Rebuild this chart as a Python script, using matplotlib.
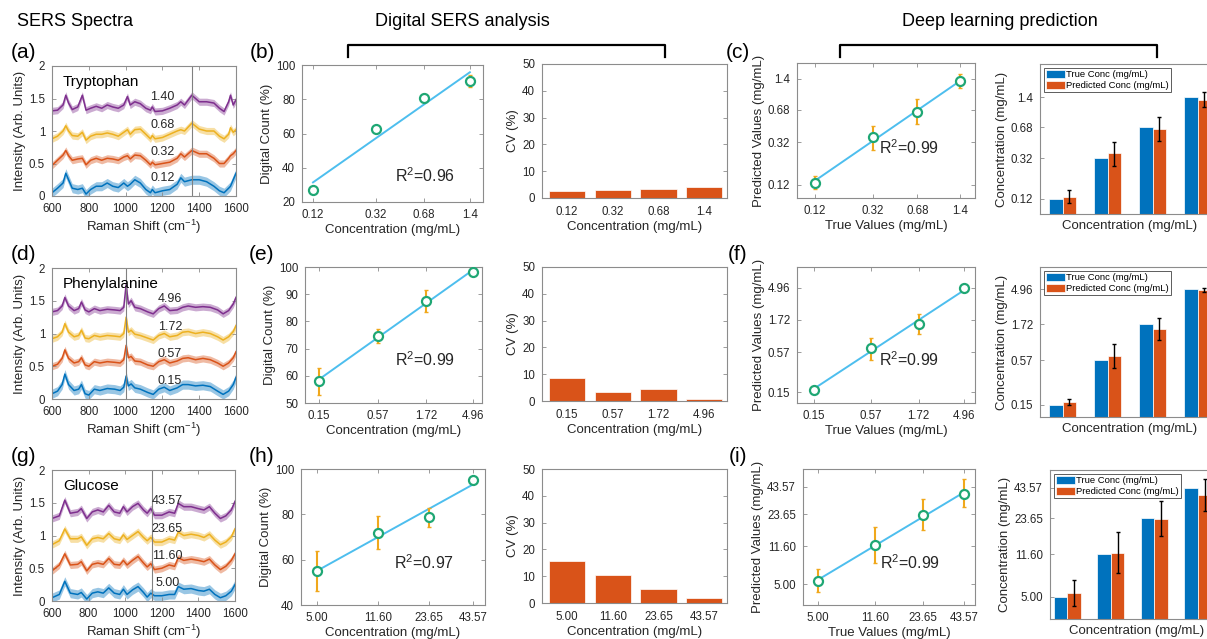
import numpy as np
import matplotlib
matplotlib.use("Agg")
import matplotlib.pyplot as plt

plt.rcParams['font.family'] = ['Liberation Sans', 'DejaVu Sans']
plt.rcParams['mathtext.fontset'] = 'custom'
plt.rcParams['mathtext.rm'] = 'Liberation Sans'
plt.rcParams['mathtext.it'] = 'Liberation Sans:italic'

# ---------------- data ----------------
# Tryptophan spectra
trp_x = [600, 630, 660, 675, 690, 710, 740, 765, 785, 810, 840, 870, 900, 930, 960, 990, 1010, 1025,
         1050, 1080, 1110, 1135, 1145, 1160, 1200, 1240, 1280, 1300, 1320, 1360, 1400, 1440, 1480,
         1510, 1535, 1560, 1570, 1585, 1600]
trp_s140 = [1.31, 1.32, 1.40, 1.55, 1.43, 1.33, 1.37, 1.55, 1.32, 1.35, 1.38, 1.35, 1.40, 1.37, 1.35, 1.40,
            1.53, 1.40, 1.45, 1.42, 1.35, 1.32, 1.37, 1.30, 1.31, 1.35, 1.40, 1.45, 1.40, 1.55, 1.45, 1.45,
            1.43, 1.35, 1.30, 1.45, 1.55, 1.40, 1.48]
trp_s068 = [0.88, 0.92, 1.00, 1.08, 1.00, 0.93, 0.92, 0.98, 0.86, 0.92, 0.95, 0.95, 0.97, 0.95, 0.92, 0.98,
            1.02, 0.95, 1.02, 1.03, 0.95, 0.88, 0.93, 0.88, 0.90, 0.95, 1.00, 1.02, 1.00, 1.12, 1.03, 1.00,
            1.00, 0.92, 0.88, 0.95, 1.05, 0.98, 1.02]
trp_s032 = [0.47, 0.55, 0.63, 0.70, 0.62, 0.55, 0.57, 0.58, 0.48, 0.55, 0.58, 0.55, 0.58, 0.57, 0.55, 0.60,
            0.62, 0.57, 0.63, 0.62, 0.55, 0.48, 0.52, 0.48, 0.50, 0.52, 0.58, 0.65, 0.60, 0.70, 0.65, 0.65,
            0.58, 0.50, 0.50, 0.58, 0.62, 0.65, 0.70]
trp_s012 = [0.05, 0.12, 0.20, 0.35, 0.25, 0.12, 0.10, 0.12, 0.03, 0.10, 0.15, 0.15, 0.20, 0.15, 0.13, 0.20,
            0.15, 0.18, 0.25, 0.20, 0.10, 0.05, 0.10, 0.05, 0.08, 0.10, 0.18, 0.28, 0.22, 0.25, 0.25, 0.22,
            0.15, 0.08, 0.05, 0.12, 0.15, 0.25, 0.35]

# Phenylalanine spectra
phe_x = [600, 630, 655, 670, 690, 720, 745, 760, 780, 800, 830, 860, 900, 940, 970, 990, 1003, 1015, 1030,
         1050, 1080, 1120, 1150, 1180, 1210, 1240, 1280, 1310, 1340, 1380, 1420, 1460, 1500, 1530, 1560,
         1585, 1600]
phe_s496 = [1.33, 1.35, 1.42, 1.55, 1.42, 1.35, 1.38, 1.48, 1.36, 1.33, 1.38, 1.35, 1.37, 1.36, 1.35, 1.40,
            1.75, 1.45, 1.50, 1.40, 1.38, 1.33, 1.30, 1.38, 1.42, 1.35, 1.36, 1.40, 1.42, 1.40, 1.41, 1.40,
            1.36, 1.30, 1.35, 1.45, 1.55]
phe_s172 = [0.92, 0.95, 1.02, 1.15, 1.02, 0.95, 0.97, 1.05, 0.93, 0.92, 0.97, 0.95, 0.97, 0.96, 0.95, 1.00,
            1.25, 1.02, 1.05, 0.99, 0.97, 0.93, 0.90, 0.97, 1.00, 0.95, 0.97, 1.02, 1.03, 1.00, 1.02, 1.00,
            0.95, 0.90, 0.95, 1.03, 1.12]
phe_s057 = [0.50, 0.53, 0.62, 0.75, 0.62, 0.55, 0.57, 0.63, 0.52, 0.50, 0.57, 0.55, 0.57, 0.56, 0.55, 0.60,
            0.82, 0.63, 0.65, 0.58, 0.57, 0.52, 0.50, 0.57, 0.60, 0.55, 0.58, 0.62, 0.63, 0.60, 0.62, 0.60,
            0.55, 0.50, 0.55, 0.63, 0.72]
phe_s015 = [0.08, 0.12, 0.22, 0.38, 0.22, 0.13, 0.15, 0.22, 0.08, 0.06, 0.15, 0.13, 0.16, 0.15, 0.13, 0.18,
            0.35, 0.20, 0.23, 0.17, 0.15, 0.10, 0.07, 0.15, 0.18, 0.13, 0.17, 0.22, 0.22, 0.20, 0.21, 0.19,
            0.12, 0.07, 0.12, 0.22, 0.33]

# Glucose spectra
glu_x = [600, 640, 670, 700, 740, 760, 790, 820, 850, 880, 910, 940, 970, 990, 1010, 1040, 1070, 1100, 1120,
         1140, 1160, 1200, 1240, 1270, 1290, 1320, 1360, 1400, 1430, 1460, 1490, 1520, 1550, 1580, 1600]
glu_s4357 = [1.26, 1.30, 1.54, 1.34, 1.36, 1.41, 1.26, 1.36, 1.39, 1.36, 1.46, 1.36, 1.34, 1.44, 1.36, 1.44,
             1.49, 1.39, 1.34, 1.41, 1.31, 1.31, 1.36, 1.34, 1.49, 1.44, 1.44, 1.41, 1.39, 1.44, 1.34, 1.26,
             1.30, 1.39, 1.52]
glu_s2365 = [0.86, 0.92, 1.10, 0.95, 0.95, 0.98, 0.85, 0.95, 0.97, 0.95, 1.03, 0.95, 0.93, 1.01, 0.94, 1.00,
             1.06, 0.97, 0.92, 0.97, 0.90, 0.90, 0.95, 0.93, 1.05, 1.00, 1.02, 1.00, 0.97, 1.02, 0.93, 0.86,
             0.90, 0.98, 1.10]
glu_s1160 = [0.46, 0.55, 0.72, 0.55, 0.56, 0.60, 0.46, 0.56, 0.58, 0.56, 0.65, 0.56, 0.55, 0.62, 0.55, 0.62,
             0.68, 0.58, 0.52, 0.57, 0.48, 0.50, 0.55, 0.53, 0.66, 0.62, 0.64, 0.62, 0.60, 0.64, 0.55, 0.48,
             0.53, 0.62, 0.72]
glu_s500 = [0.05, 0.10, 0.30, 0.12, 0.10, 0.13, 0.03, 0.12, 0.14, 0.12, 0.20, 0.12, 0.10, 0.18, 0.10, 0.17,
            0.22, 0.13, 0.06, 0.12, 0.08, 0.08, 0.10, 0.10, 0.22, 0.18, 0.19, 0.16, 0.15, 0.18, 0.10, 0.05,
            0.08, 0.15, 0.25]

band_halfwidth = [0.07, 0.055, 0.055, 0.055]   # blue, red, yellow, purple

# Concentrations
trp_conc = [0.12, 0.32, 0.68, 1.4]
trp_labels = ['0.12', '0.32', '0.68', '1.4']
phe_conc = [0.15, 0.57, 1.72, 4.96]
phe_labels = ['0.15', '0.57', '1.72', '4.96']
glu_conc = [5.00, 11.60, 23.65, 43.57]
glu_labels = ['5.00', '11.60', '23.65', '43.57']

# Digital counts (%)
trp_dc = [26.8, 62.9, 80.9, 90.6]
trp_dc_err = [1.0, 1.0, 2.0, 3.5]
phe_dc = [58.0, 74.7, 87.5, 98.0]
phe_dc_err = [5.0, 2.5, 4.0, 0.5]
glu_dc = [55.1, 71.8, 78.7, 95.3]
glu_dc_err = [8.8, 7.3, 4.3, 1.2]

# CV (%)
trp_cv = [2.6, 3.1, 3.5, 4.2]
phe_cv = [8.6, 3.3, 4.6, 0.7]
glu_cv = [15.5, 10.3, 5.3, 1.8]

# Deep learning predictions (mg/mL)
trp_pred = [0.125, 0.36, 0.654, 1.315]
trp_pred_lo = [0.108, 0.265, 0.49, 1.12]
trp_pred_hi = [0.148, 0.47, 0.87, 1.58]
phe_pred = [0.164, 0.66, 1.49, 4.87]
phe_pred_lo = [0.15, 0.45, 1.07, 4.6]
phe_pred_hi = [0.18, 0.93, 2.08, 5.15]
glu_pred = [5.42, 11.95, 23.3, 37.3]
glu_pred_lo = [4.19, 7.95, 16.6, 27.5]
glu_pred_hi = [7.03, 17.96, 33.5, 51.3]

r2_dc = ['0.96', '0.99', '0.97']
r2_pred = ['0.99', '0.99', '0.99']

# ---------------- styling ----------------
W, H = 1207, 639
fig = plt.figure(figsize=(W / 100, H / 100), dpi=100)
fig.patch.set_facecolor('white')

C_BLUE = '#0072BD'
C_ORANGE = '#D95319'
C_YELLOW = '#EDB120'
C_PURPLE = '#7E2F8E'
C_LINE = '#4DBEEE'
C_MARK = '#1FA774'
C_ERR = '#F0A81C'
SPINE = '#8c8c8c'
TXT = '#262626'
TICK_FS = 8.3
LAB_FS = 9.5


def add_ax(l, t, r, b):
    return fig.add_axes([l / W, 1 - b / H, (r - l) / W, (b - t) / H])


def style(ax):
    for s in ax.spines.values():
        s.set_color(SPINE)
        s.set_linewidth(0.8)
    ax.tick_params(direction='in', top=True, right=True, length=3, width=0.6,
                   color=SPINE, labelcolor=TXT, labelsize=TICK_FS, pad=5)


def spectra(ax, x, curves, labels, name, vline, label_x):
    cols = [C_BLUE, C_ORANGE, C_YELLOW, C_PURPLE]
    for y, c, hw in zip(curves, cols, band_halfwidth):
        y = np.asarray(y)
        ax.fill_between(x, y - hw, y + hw, color=c, alpha=0.4, lw=0)
        ax.plot(x, y, color=c, lw=1.1)
    ax.axvline(vline, color='#808080', lw=0.8)
    label_y = [0.28, 0.68, 1.1, 1.53]
    for lab, ly in zip(labels, label_y):
        ax.text(label_x, ly, lab, ha='center', va='center', fontsize=9, color=TXT)
    ax.text(660, 1.76, name, ha='left', va='center', fontsize=11, color='black')
    ax.set_xlim(600, 1600)
    ax.set_ylim(0, 2)
    ax.set_xticks([600, 800, 1000, 1200, 1400, 1600])
    ax.set_yticks([0, 0.5, 1, 1.5, 2])
    ax.set_yticklabels(['0', '0.5', '1', '1.5', '2'])
    style(ax)
    ax.set_xlabel('Raman Shift (cm$^{-1}$)', fontsize=LAB_FS, color=TXT, labelpad=2)
    ax.set_ylabel('Intensity (Arb. Units)', fontsize=LAB_FS, color=TXT, labelpad=2)


def digital(ax, conc, labels, dc, err, r2, xlim, ylim, yticks, r2pos):
    lx = np.log10(conc)
    p = np.polyfit(lx, dc, 1)
    xx = np.array([conc[0], conc[-1]])
    ax.plot(xx, np.polyval(p, np.log10(xx)), color=C_LINE, lw=1.4, zorder=2)
    ax.errorbar(conc, dc, yerr=err, fmt='none', ecolor=C_ERR, elinewidth=1.5, capsize=1.5, zorder=3)
    ax.plot(conc, dc, 'o', mfc='white', mec=C_MARK, mew=1.6, ms=6.5, zorder=4)
    ax.set_xscale('log')
    ax.set_xlim(*xlim)
    ax.set_ylim(*ylim)
    ax.set_xticks(conc)
    ax.set_xticklabels(labels)
    ax.minorticks_off()
    ax.set_yticks(yticks)
    style(ax)
    ax.text(r2pos[0], r2pos[1], 'R$^2$=' + r2, transform=ax.transAxes, ha='center', va='center',
            fontsize=11.5, color=TXT)
    ax.set_xlabel('Concentration (mg/mL)', fontsize=LAB_FS, color=TXT, labelpad=2)
    ax.set_ylabel('Digital Count (%)', fontsize=LAB_FS, color=TXT, labelpad=2)


def cvbars(ax, labels, cv):
    pos = np.arange(1, len(cv) + 1)
    ax.bar(pos, cv, width=0.8, color=C_ORANGE, edgecolor='white', lw=0.5)
    ax.set_xlim(0.45, 4.5)
    ax.set_ylim(0, 50)
    ax.set_xticks(pos)
    ax.set_xticklabels(labels)
    ax.set_yticks([0, 10, 20, 30, 40, 50])
    style(ax)
    ax.tick_params(axis='x', length=0, pad=6)
    ax.set_xlabel('Concentration (mg/mL)', fontsize=LAB_FS, color=TXT, labelpad=2)
    ax.set_ylabel('CV (%)', fontsize=LAB_FS, color=TXT, labelpad=2)


def predplot(ax, conc, labels, pred, lo, hi, r2, xlim, ylim, r2pos):
    p = np.polyfit(np.log(conc), np.log(pred), 1)
    xx = np.array([conc[0], conc[-1]])
    ax.plot(xx, np.exp(np.polyval(p, np.log(xx))), color=C_LINE, lw=1.4, zorder=2)
    pred = np.asarray(pred)
    yerr = [pred - np.asarray(lo), np.asarray(hi) - pred]
    ax.errorbar(conc, pred, yerr=yerr, fmt='none', ecolor=C_ERR, elinewidth=1.5, capsize=1.5, zorder=3)
    ax.plot(conc, pred, 'o', mfc='white', mec=C_MARK, mew=1.6, ms=6.5, zorder=4)
    ax.set_xscale('log')
    ax.set_yscale('log')
    ax.set_xlim(*xlim)
    ax.set_ylim(*ylim)
    ax.set_xticks(conc)
    ax.set_xticklabels(labels)
    ax.set_yticks(conc)
    ax.set_yticklabels(labels)
    ax.minorticks_off()
    style(ax)
    ax.text(r2pos[0], r2pos[1], 'R$^2$=' + r2, transform=ax.transAxes, ha='center', va='center',
            fontsize=11.5, color=TXT)
    ax.set_xlabel('True Values (mg/mL)', fontsize=LAB_FS, color=TXT, labelpad=2)
    ax.set_ylabel('Predicted Values (mg/mL)', fontsize=LAB_FS, color=TXT, labelpad=2)


def predbars(ax, conc, labels, pred, lo, hi, ylim, xlim):
    pos = np.arange(1, len(conc) + 1)
    pred = np.asarray(pred)
    yerr = [pred - np.asarray(lo), np.asarray(hi) - pred]
    ax.set_yscale('log')
    ax.bar(pos - 0.155, conc, width=0.31, color=C_BLUE, edgecolor='white', lw=0.5,
           label='True Conc (mg/mL)')
    ax.bar(pos + 0.155, pred, width=0.31, color=C_ORANGE, edgecolor='white', lw=0.5,
           label='Predicted Conc (mg/mL)')
    ax.errorbar(pos + 0.155, pred, yerr=yerr, fmt='none', ecolor='black', elinewidth=1.0, capsize=1.5)
    ax.set_xlim(*xlim)
    ax.set_ylim(*ylim)
    ax.set_xticks([])
    ax.set_yticks(conc)
    ax.set_yticklabels(labels)
    ax.minorticks_off()
    style(ax)
    ax.set_xlabel('Concentration (mg/mL)', fontsize=LAB_FS, color=TXT, labelpad=4)
    ax.set_ylabel('Concentration (mg/mL)', fontsize=LAB_FS, color=TXT, labelpad=2)
    leg = ax.legend(loc='upper left', fontsize=6.8, frameon=True, fancybox=False,
                    borderpad=0.2, handlelength=2.0, handleheight=1.0, labelspacing=0.15,
                    handletextpad=0.15, borderaxespad=0.4)
    leg.get_frame().set_edgecolor('#333333')
    leg.get_frame().set_linewidth(0.7)


# ---------------- row 1: Tryptophan ----------------
ax = add_ax(52, 66, 236, 196)
spectra(ax, trp_x, [trp_s012, trp_s032, trp_s068, trp_s140], ['0.12', '0.32', '0.68', '1.40'],
        'Tryptophan', 1362, 1200)
ax = add_ax(302, 65, 483, 202)
digital(ax, trp_conc, trp_labels, trp_dc, trp_dc_err, r2_dc[0], (0.101, 1.72), (20, 100),
        [20, 40, 60, 80, 100], (0.68, 0.19))
ax = add_ax(542, 64, 727, 198)
cvbars(ax, trp_labels, trp_cv)
ax = add_ax(797, 63, 975, 198)
predplot(ax, trp_conc, trp_labels, trp_pred, trp_pred_lo, trp_pred_hi, r2_pred[0], (0.089, 1.80),
         (0.0878, 2.02), (0.63, 0.37))
ax = add_ax(1040, 64, 1220, 214)
predbars(ax, trp_conc, trp_labels, trp_pred, trp_pred_lo, trp_pred_hi, (0.0826, 3.15), (0.5, 4.5))

# ---------------- row 2: Phenylalanine ----------------
ax = add_ax(52, 268, 236, 399)
spectra(ax, phe_x, [phe_s015, phe_s057, phe_s172, phe_s496], ['0.15', '0.57', '1.72', '4.96'],
        'Phenylalanine', 1003, 1240)
ax = add_ax(305, 267, 482, 403)
digital(ax, phe_conc, phe_labels, phe_dc, phe_dc_err, r2_dc[1], (0.109, 6.14), (50, 100),
        [50, 60, 70, 80, 90, 100], (0.68, 0.32))
ax = add_ax(542, 267, 727, 401)
cvbars(ax, phe_labels, phe_cv)
ax = add_ax(797, 267, 975, 403)
predplot(ax, phe_conc, phe_labels, phe_pred, phe_pred_lo, phe_pred_hi, r2_pred[1], (0.102, 6.34),
         (0.105, 9.98), (0.63, 0.32))
ax = add_ax(1040, 267, 1220, 417)
predbars(ax, phe_conc, phe_labels, phe_pred, phe_pred_lo, phe_pred_hi, (0.103, 9.66), (0.5, 4.5))

# ---------------- row 3: Glucose ----------------
ax = add_ax(52, 470, 235, 601)
spectra(ax, glu_x, [glu_s500, glu_s1160, glu_s2365, glu_s4357], ['5.00', '11.60', '23.65', '43.57'],
        'Glucose', 1145, 1230)
ax = add_ax(301, 469, 485, 605)
digital(ax, glu_conc, glu_labels, glu_dc, glu_dc_err, r2_dc[2], (3.99, 51.2), (40, 100),
        [40, 60, 80, 100], (0.67, 0.31))
ax = add_ax(542, 469, 727, 603)
cvbars(ax, glu_labels, glu_cv)
ax = add_ax(803, 469, 975, 605)
predplot(ax, glu_conc, glu_labels, glu_pred, glu_pred_lo, glu_pred_hi, r2_pred[2], (4.0, 51.0),
         (3.16, 64.5), (0.62, 0.31))
ax = add_ax(1050, 470, 1224, 619)
predbars(ax, glu_conc, glu_labels, glu_pred, glu_pred_lo, glu_pred_hi, (3.22, 61.7), (0.6, 4.6))

# ---------------- headers, panel labels, brackets ----------------
def ftext(x, y, s, **kw):
    fig.text(x / W, 1 - y / H, s, **kw)

ftext(75, 22, 'SERS Spectra', ha='center', va='center', fontsize=13)
ftext(462, 22, 'Digital SERS analysis', ha='center', va='center', fontsize=13)
ftext(1000, 22, 'Deep learning prediction', ha='center', va='center', fontsize=13)

for lab, x, y in [('(a)', 24, 52), ('(b)', 262, 52), ('(c)', 738, 52),
                  ('(d)', 24, 254), ('(e)', 262, 254), ('(f)', 738, 254),
                  ('(g)', 24, 456), ('(h)', 262, 456), ('(i)', 738, 456)]:
    ftext(x, y, lab, ha='center', va='center', fontsize=15)

for x0, x1 in [(348, 665), (840, 1157)]:
    xs = np.array([x0, x0, x1, x1]) / W
    ys = 1 - np.array([57, 45, 45, 57]) / H
    fig.add_artist(plt.Line2D(xs, ys, color='black', lw=1.6, transform=fig.transFigure))

fig.savefig('out.png', dpi=100)
